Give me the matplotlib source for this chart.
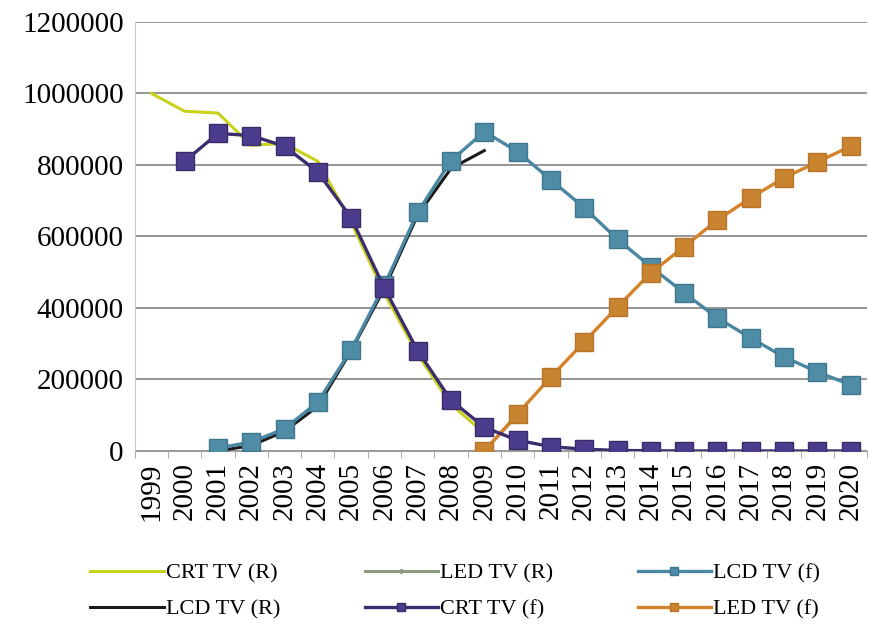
import matplotlib.pyplot as plt
import numpy as np

plt.rcParams['font.family'] = ['Liberation Serif', 'DejaVu Serif']

years = [str(y) for y in range(1999, 2021)]
nan = np.nan

# values, index 0 = 1999
crt_r = [1000000, 950000, 945000, 855000, 860000, 810000, 640000, 440000, 270000, 130000, 50000,
         nan, nan, nan, nan, nan, nan, nan, nan, nan, nan, nan]
lcd_r = [nan, nan, 0, 15000, 55000, 125000, 280000, 455000, 660000, 790000, 840000,
         nan, nan, nan, nan, nan, nan, nan, nan, nan, nan, nan]
led_r = [nan, nan, nan, nan, nan, nan, nan, nan, nan, nan, 0, 100000,
         nan, nan, nan, nan, nan, nan, nan, nan, nan, nan]
crt_f = [nan, 810000, 888000, 882000, 852000, 780000, 652000, 455000, 280000, 142000, 66000,
         30000, 12000, 5000, 1500, 500, 0, 0, 0, 0, 0, 0]
lcd_f = [nan, nan, 8000, 25000, 62000, 137000, 283000, 464000, 668000, 812000, 893000,
         837000, 758000, 680000, 592000, 515000, 442000, 372000, 316000, 263000, 221000, 185000]
led_f = [nan, nan, nan, nan, nan, nan, nan, nan, nan, nan, 0,
         104000, 207000, 305000, 403000, 498000, 571000, 646000, 708000, 764000, 808000, 852000]

x = np.arange(len(years))

fig = plt.figure(figsize=(8.69, 6.26), dpi=100)
ax = fig.add_axes([0.155, 0.2796, 0.843, 0.6855])

ax.plot(x, crt_r, color='#c9d21a', lw=2.2, label='CRT TV (R)', zorder=3)
ax.plot(x, lcd_r, color='#1a1a1a', lw=2.2, label='LCD TV (R)', zorder=2.5)
ax.plot(x, led_r, color='#8e9b7e', lw=2.2, marker='D', ms=5, label='LED TV (R)', zorder=2)
ax.plot(x, crt_f, color='#3b2d6e', lw=2.4, marker='s', ms=13, mfc='#4c3c8e', mec='#3a2c6a',
        label='CRT TV (f)', zorder=5)
ax.plot(x, lcd_f, color='#4a87a3', lw=2.4, marker='s', ms=13, mfc='#4f8ca6', mec='#3f7690',
        label='LCD TV (f)', zorder=3)
ax.plot(x, led_f, color='#d4832a', lw=2.4, marker='s', ms=13, mfc='#c9842f', mec='#b8742a',
        label='LED TV (f)', zorder=4)

ax.set_xlim(-0.5, len(years) - 0.5)
ax.set_ylim(0, 1200000)
ax.set_yticks(np.arange(0, 1200001, 200000))
ax.set_yticklabels([str(v) for v in range(0, 1200001, 200000)], fontsize=21)
ax.set_xticks(x)
ax.set_xticklabels(years, rotation=90, fontsize=21)
ax.set_xticks(np.arange(-0.5, len(years), 1), minor=True)
ax.tick_params(axis='x', which='major', length=0, pad=8)
ax.tick_params(axis='x', which='minor', length=5, color='#a0a0a0')
ax.tick_params(axis='y', length=0, pad=8)

ax.grid(axis='y', color='#8c8c8c', lw=1.3)
ax.set_axisbelow(True)
for s in ['top', 'right']:
    ax.spines[s].set_visible(False)
ax.spines['left'].set_color('#c8c8c8')
ax.spines['bottom'].set_color('#a0a0a0')

fig.legend(loc='lower center', bbox_to_anchor=(0.524, -0.022), ncol=3, frameon=False,
           fontsize=16, handlelength=3.3, handletextpad=0.1, columnspacing=3.8,
           labelspacing=0.7, markerscale=0.45)

fig.savefig('out.png', dpi=100)
